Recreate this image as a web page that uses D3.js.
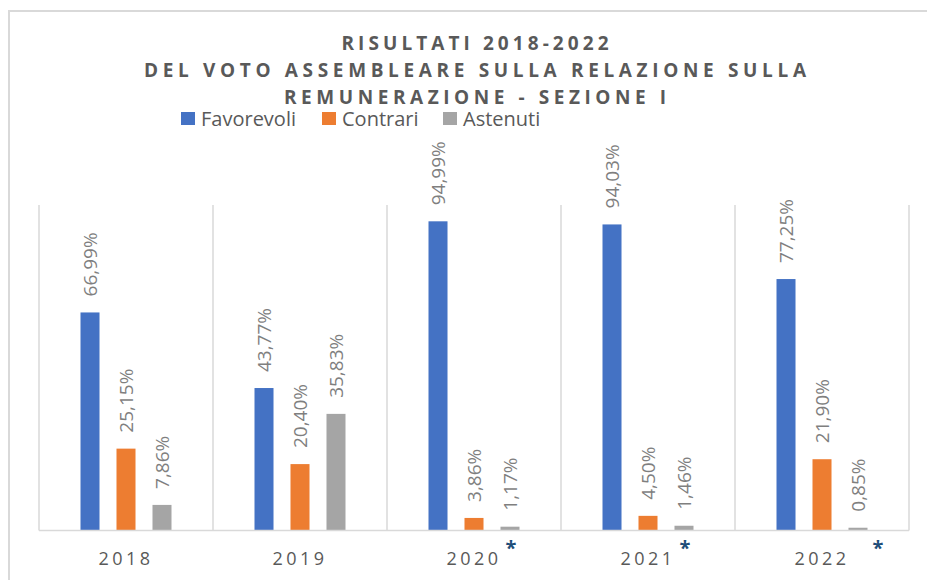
<!DOCTYPE html>
<html>
<head>
<meta charset="utf-8">
<script src="https://cdn.jsdelivr.net/npm/d3@7"></script>
<style>
  body { margin: 0; background: #fff; }
  svg { display: block; }
</style>
</head>
<body>
<svg width="927" height="580"></svg>
<script>
var categories = ["2018", "2019", "2020", "2021", "2022"];
var seriesNames = ["Favorevoli", "Contrari", "Astenuti"];
var favorevoli = [66.99, 43.77, 94.99, 94.03, 77.25];
var contrari = [25.15, 20.40, 3.86, 4.50, 21.90];
var astenuti = [7.86, 35.83, 1.17, 1.46, 0.85];
var flagged = ["2020", "2021", "2022"];
var titleLines = [
    "RISULTATI 2018-2022",
    "DEL VOTO ASSEMBLEARE SULLA RELAZIONE SULLA",
    "REMUNERAZIONE - SEZIONE I"
];

var colors = ["#4472c4", "#ed7d31", "#a5a5a5"];

var data = categories.map(function(c, i) {
    return {cat: c, Favorevoli: favorevoli[i], Contrari: contrari[i], Astenuti: astenuti[i]};
});

var svg = d3.select("svg"),
    margin = {top: 205, right: 18, bottom: 49.5, left: 39},
    width = +svg.attr("width") - margin.left - margin.right,
    height = +svg.attr("height") - margin.top - margin.bottom;

// outer frame, only top/left edges fall inside the window
svg.append("rect")
    .attr("x", 9).attr("y", 11)
    .attr("width", 1000).attr("height", 700)
    .attr("fill", "none")
    .attr("stroke", "#d9d9d9")
    .attr("stroke-width", 2);

// title
var titleLen = [267, 662, 382];
svg.append("g")
    .selectAll("text")
    .data(titleLines)
    .enter().append("text")
    .attr("x", 475)
    .attr("y", function(d, i) { return 50 + i * 27; })
    .attr("text-anchor", "middle")
    .attr("font-family", "'Open Sans', sans-serif")
    .attr("font-weight", "bold")
    .attr("font-size", 19)
    .attr("fill", "#595959")
    .attr("textLength", function(d, i) { return titleLen[i]; })
    .attr("lengthAdjust", "spacing")
    .text(function(d) { return d; });

var z = d3.scaleOrdinal().domain(seriesNames).range(colors);

// legend
var legendX = [181, 322, 443];
var legend = svg.append("g")
    .attr("font-family", "'Open Sans', sans-serif")
    .attr("font-size", 20)
    .selectAll("g")
    .data(seriesNames)
    .enter().append("g")
    .attr("transform", function(d, i) { return "translate(" + legendX[i] + ",112)"; });

legend.append("rect")
    .attr("width", 14)
    .attr("height", 13)
    .attr("fill", z);

legend.append("text")
    .attr("x", 20)
    .attr("y", 13.5)
    .attr("fill", "#595959")
    .text(function(d) { return d; });

var g = svg.append("g").attr("transform", "translate(" + margin.left + "," + margin.top + ")");

var x0 = d3.scaleBand()
    .domain(categories)
    .range([0, width]);

var groupW = 91;
var x1 = d3.scaleBand()
    .domain(seriesNames)
    .range([0, groupW])
    .paddingInner(0.472);

var y = d3.scaleLinear()
    .domain([0, 100])
    .range([height, 0]);

// category separators
g.append("g")
    .selectAll("line")
    .data(d3.range(categories.length + 1))
    .enter().append("line")
    .attr("x1", function(i) { return i * x0.step(); })
    .attr("x2", function(i) { return i * x0.step(); })
    .attr("y1", 0)
    .attr("y2", height)
    .attr("stroke", "#d9d9d9")
    .attr("stroke-width", 1.5);

var off = (x0.bandwidth() - groupW) / 2;

var groups = g.append("g")
    .selectAll("g")
    .data(data)
    .enter().append("g")
    .attr("class", "bar")
    .attr("transform", function(d) { return "translate(" + (x0(d.cat) + off) + ",0)"; });

var cells = groups.selectAll("g")
    .data(function(d) { return seriesNames.map(function(key) { return {key: key, value: d[key]}; }); })
    .enter().append("g");

cells.append("rect")
    .attr("x", function(d) { return x1(d.key); })
    .attr("y", function(d) { return y(d.value); })
    .attr("width", x1.bandwidth())
    .attr("height", function(d) { return height - y(d.value); })
    .attr("fill", function(d) { return z(d.key); });

var it = d3.formatLocale({decimal: ",", thousands: ".", grouping: [3], currency: ["", "€"]});
var fmt = it.format(".2f");

cells.append("text")
    .attr("transform", function(d) {
        return "translate(" + (x1(d.key) + x1.bandwidth() / 2) + "," + (y(d.value) - 16) + ") rotate(-90)";
    })
    .attr("dy", "0.36em")
    .attr("text-anchor", "start")
    .attr("font-family", "'Open Sans', sans-serif")
    .attr("font-size", 19)
    .attr("fill", "#7f7f7f")
    .text(function(d) { return fmt(d.value) + "%"; });

// baseline
g.append("line")
    .attr("x1", 0).attr("x2", width)
    .attr("y1", height).attr("y2", height)
    .attr("stroke", "#d9d9d9")
    .attr("stroke-width", 1.5);

// category labels
g.append("g")
    .selectAll("text")
    .data(categories)
    .enter().append("text")
    .attr("x", function(d) { return x0(d) + x0.bandwidth() / 2; })
    .attr("y", height + 34.5)
    .attr("text-anchor", "middle")
    .attr("font-family", "'Open Sans', sans-serif")
    .attr("font-size", 18)
    .attr("letter-spacing", 3.5)
    .attr("fill", "#595959")
    .text(function(d) { return d; });

// asterisk notes, placed under the Astenuti bar (last one sits further right)
g.append("g")
    .selectAll("text")
    .data(flagged)
    .enter().append("text")
    .attr("x", function(d, i) {
        var cx = x0(d) + off + x1("Astenuti") + x1.bandwidth() / 2;
        return cx + (i == flagged.length - 1 ? 20 : 1);
    })
    .attr("y", height + 24)
    .attr("text-anchor", "middle")
    .attr("font-family", "'Open Sans', sans-serif")
    .attr("font-weight", "bold")
    .attr("font-size", 20)
    .attr("fill", "#1f4e79")
    .text("*");
</script>
</body>
</html>
